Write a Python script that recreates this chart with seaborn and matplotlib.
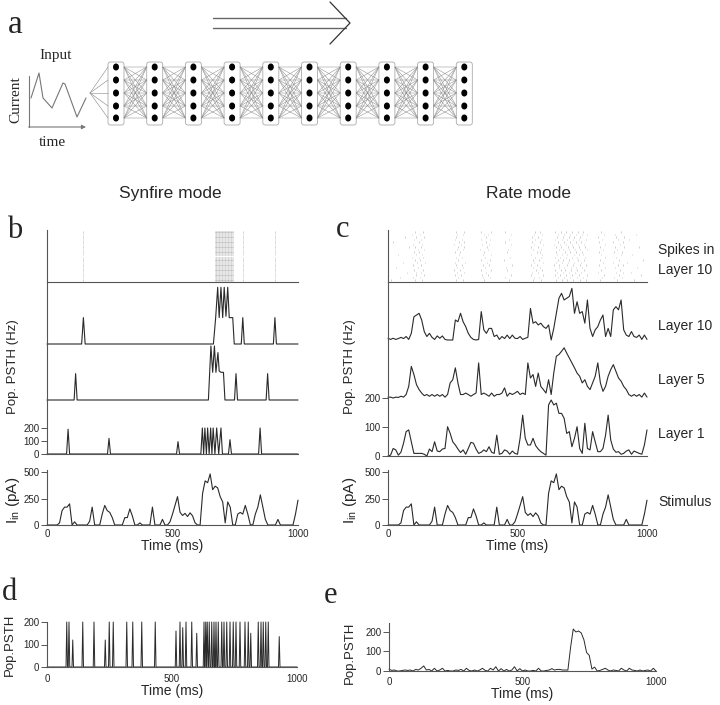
import numpy as np
import pandas as pd
import matplotlib
matplotlib.use("Agg")
import matplotlib.pyplot as plt
from matplotlib.patches import FancyBboxPatch, Ellipse
import seaborn as sns

sns.set_style("white")
plt.rcParams['font.family'] = ['Liberation Sans', 'DejaVu Sans']
plt.rcParams['mathtext.fontset'] = 'custom'
plt.rcParams['mathtext.rm'] = 'Liberation Sans'
plt.rcParams['mathtext.it'] = 'Liberation Sans:italic'

# ---------------- data ----------------
# panel a: sketched input current
input_time = [2, 10, 14, 23, 34, 36, 48, 57]
input_current = [29, 54, 29, 19, 44, 43, 10, 29]
n_layers = 10
n_neurons = 5

# time grid (ms) of the binned traces
bin_ms = list(range(0, 1001, 10))

# stimulus current (pA), shared by b and c
stim = [0, 0, 0, 0, 0, 20, 136, 169, 169, 200,
        0, 30, 0, 0, 0, 0, 0, 36, 169, 0,
        0, 0, 103, 185, 136, 119, 70, 0, 0, 0,
        0, 70, 70, 152, 86, 0, 0, 20, 0, 0,
        0, 0, 169, 0, 0, 0, 53, 0, 0, 30,
        103, 185, 268, 120, 90, 110, 80, 115, 86, 20,
        0, 0, 300, 417, 400, 483, 334, 367, 351, 268,
        218, 20, 218, 169, 0, 0, 103, 119, 103, 185,
        103, 3, 0, 103, 169, 285, 169, 53, 0, 0,
        0, 0, 53, 0, 0, 0, 0, 0, 0, 103,
        235]

# synfire mode (b): population PSTH (Hz)
b_l10_t = [0, 138, 145, 152, 663, 672, 680, 686, 693, 700, 706, 713, 720, 726, 740, 746,
           774, 780, 786, 902, 908, 914, 1000]
b_l10_v = [0, 0, 200, 0, 0, 200, 430, 200, 430, 200, 430, 210, 430, 200, 200, 0,
           0, 200, 0, 0, 200, 0, 0]
b_l5_t = [0, 108, 114, 120, 643, 653, 660, 667, 673, 681, 686, 693, 703, 709,
          747, 753, 759, 873, 879, 885, 1000]
b_l5_v = [0, 0, 200, 0, 0, 410, 210, 410, 210, 360, 220, 210, 210, 0,
          0, 200, 0, 0, 200, 0, 0]
b_l1_t = [0, 78, 84, 90, 241, 247, 253, 516, 522, 528, 613, 619, 624, 629, 635, 640,
          646, 652, 657, 662, 669, 676, 684, 693, 699, 723, 729, 735, 843, 849, 855, 1000]
b_l1_v = [0, 0, 190, 0, 0, 120, 0, 0, 95, 0, 0, 200, 0, 200, 0, 200,
          0, 200, 0, 200, 0, 200, 0, 200, 0, 0, 110, 0, 0, 200, 0, 0]
# synchronous spike times of layer 10 (synfire)
sync_spikes = [145, 669, 672, 675, 678, 681, 684, 687, 690, 693, 696, 699, 702, 705,
               708, 711, 714, 717, 720, 723, 726, 729, 732, 735, 738, 741, 780, 908]
n_raster_rows = 20

# rate mode (c): population PSTH (Hz)
c_l10 = [6, 2, 6, 2, 5, 9, 5, 12, 2, 23,
         80, 86, 92, 69, 29, 12, 23, 9, 2, 14,
         6, 14, 2, 0, 0, 0, 69, 63, 92, 63,
         46, 23, 9, 2, 0, 2, 98, 35, 23, 40,
         40, 12, 17, 2, 12, 5, 17, 5, 17, 6,
         5, 12, 2, 6, 9, 109, 58, 63, 52, 58,
         46, 40, 52, 0, 40, 92, 144, 161, 138, 144,
         150, 178, 92, 132, 92, 98, 58, 138, 40, 12,
         35, 46, 69, 86, 12, 40, 12, 104, 115, 104,
         138, 35, 17, 12, 29, 12, 9, 17, 2, 17,
         2]
c_l5 = [3, 3, 0, 3, 2, 6, 3, 12, 40, 109,
        81, 46, 29, 17, 8, 12, 6, 12, 6, 12,
        6, 12, 3, 12, 52, 63, 104, 52, 12, 12,
        17, 12, 6, 12, 17, 121, 12, 17, 12, 6,
        17, 6, 12, 12, 17, 35, 6, 17, 12, 17,
        23, 12, 17, 12, 121, 69, 81, 40, 86, 40,
        29, 17, 63, 12, 86, 144, 150, 161, 173, 155,
        138, 121, 104, 86, 75, 52, 63, 40, 29, 52,
        75, 121, 52, 23, 40, 75, 98, 115, 92, 69,
        58, 40, 29, 12, 6, 12, 6, 12, 3, 17,
        3]
c_l1 = [0, 3, 26, 21, 3, 13, 44, 84, 90, 49,
        9, 9, 9, 9, 6, 0, 24, 15, 49, 17,
        15, 24, 26, 101, 78, 49, 38, 24, 12, 21,
        6, 26, 47, 44, 24, 9, 13, 21, 15, 32,
        13, 9, 72, 6, 9, 21, 17, 6, 17, 9,
        6, 61, 141, 61, 38, 38, 61, 36, 24, 15,
        9, 3, 176, 193, 176, 182, 147, 147, 130, 78,
        84, 32, 61, 101, 26, 9, 113, 26, 21, 84,
        49, 15, 15, 26, 72, 141, 55, 24, 13, 15,
        6, 9, 17, 21, 6, 17, 13, 9, 6, 38,
        90]
# layer 10 spike raster (rate mode), one list per neuron (ms)
rate_spikes = [
    [12, 104, 131, 262, 288, 371, 468, 558, 591, 648, 671, 693, 716, 742, 763, 817, 884, 951],
    [47, 98, 122, 271, 366, 394, 452, 563, 584, 655, 679, 702, 728, 751, 826, 873, 902],
    [110, 139, 259, 281, 362, 387, 475, 551, 597, 643, 664, 688, 711, 737, 769, 834, 891, 977],
    [73, 107, 126, 266, 294, 379, 556, 580, 652, 675, 699, 722, 746, 812, 879, 906, 938],
    [101, 135, 255, 277, 358, 399, 461, 570, 593, 646, 668, 684, 707, 731, 758, 821, 897],
    [29, 116, 268, 291, 374, 455, 561, 587, 659, 681, 705, 725, 749, 838, 875, 962],
    [96, 128, 263, 284, 368, 390, 478, 553, 576, 641, 662, 690, 713, 740, 766, 815, 887, 909],
    [58, 112, 141, 257, 297, 383, 565, 599, 650, 673, 696, 719, 744, 829, 869, 921],
    [103, 124, 270, 360, 392, 449, 559, 582, 657, 677, 700, 734, 755, 818, 893, 985],
    [92, 119, 137, 261, 286, 376, 471, 567, 589, 644, 666, 686, 709, 729, 761, 836, 881],
    [37, 108, 132, 274, 365, 397, 554, 595, 653, 670, 692, 717, 738, 753, 824, 899, 944],
    [99, 121, 258, 279, 372, 458, 575, 586, 647, 683, 704, 727, 748, 813, 871, 903],
    [114, 140, 265, 289, 356, 385, 464, 560, 592, 660, 676, 698, 721, 741, 768, 831, 885],
    [81, 105, 127, 269, 295, 381, 552, 578, 649, 669, 694, 714, 736, 759, 820, 877, 912, 969],
    [97, 133, 256, 282, 363, 389, 473, 564, 598, 642, 665, 687, 710, 733, 757, 839, 894],
    [18, 118, 273, 292, 377, 451, 557, 585, 656, 680, 703, 724, 745, 816, 868, 907],
    [102, 129, 260, 285, 359, 395, 467, 569, 590, 645, 672, 691, 715, 739, 764, 827, 889, 930],
    [66, 110, 138, 264, 378, 557, 581, 651, 674, 697, 720, 743, 811, 882, 910],
    [94, 123, 267, 290, 369, 386, 476, 562, 596, 658, 678, 701, 726, 750, 770, 833, 876, 957],
    [106, 134, 263, 293, 361, 398, 453, 566, 588, 643, 667, 689, 712, 735, 752, 822, 898],
]

# panel d: synfire PSTH peaks
d_peak_t = [79, 88, 103, 143, 188, 233, 249, 265, 319, 343, 379, 433, 516, 532, 543,
            556, 579, 599, 628, 635, 641, 649, 659, 668, 676, 685, 699, 708, 719, 732,
            745, 756, 772, 792, 805, 815, 845, 856, 865, 875, 885, 929]
d_peak_h = [200, 200, 120, 200, 200, 120, 200, 200, 200, 200, 200, 200, 160, 200, 175,
            200, 200, 150, 200, 200, 200, 200, 200, 200, 200, 200, 200, 200, 200, 200,
            200, 200, 200, 200, 200, 150, 200, 200, 200, 200, 200, 135]

# panel e: rate-mode PSTH
e_psth = [10, 3, 5, 0, 0, 3, 5, 3, 5, 0,
          8, 5, 14, 26, 5, 8, 0, 14, 0, 5,
          14, 0, 3, 0, 0, 5, 3, 8, 0, 14,
          3, 0, 5, 0, 5, 14, 3, 0, 14, 5,
          22, 0, 12, 0, 8, 0, 5, 22, 0, 12,
          0, 5, 0, 0, 3, 0, 14, 0, 0, 3,
          5, 12, 5, 8, 8, 5, 5, 5, 120, 215,
          200, 205, 195, 160, 95, 80, 10, 20, 0, 3,
          8, 14, 5, 0, 5, 3, 0, 14, 5, 0,
          14, 5, 3, 0, 5, 0, 3, 5, 0, 14,
          0]

# ---------------- figure ----------------
W, H = 720, 705
fig = plt.figure(figsize=(W / 100, H / 100), dpi=100)
fig.patch.set_facecolor('white')

TRACE = '#2a2a2a'
SPINE = '#555555'
SERIF = ['Liberation Serif', 'DejaVu Serif']


def ax_px(x0, y0, x1, y1):
    return fig.add_axes([x0 / W, 1 - y1 / H, (x1 - x0) / W, (y1 - y0) / H])


def ftext(x, y, s, **kw):
    fig.text(x / W, 1 - y / H, s, **kw)


def style(ax, left=True, bottom=False, yticks=None, xticks=False):
    ax.set_facecolor('none')
    for s in ['top', 'right']:
        ax.spines[s].set_visible(False)
    ax.spines['left'].set_visible(left)
    ax.spines['bottom'].set_visible(bottom)
    for s in ['left', 'bottom']:
        ax.spines[s].set_color(SPINE)
        ax.spines[s].set_linewidth(0.8)
    ax.set_xlim(0, 1000)
    if yticks is None:
        ax.set_yticks([])
    else:
        ax.set_yticks(yticks)
        ax.tick_params(axis='y', length=4, width=0.7, pad=1.5, labelsize=7,
                       color=SPINE, left=True)
    if xticks:
        ax.set_xticks([0, 500, 1000])
        ax.tick_params(axis='x', length=0, pad=3, labelsize=7)
    else:
        ax.set_xticks([])
    ax.set_xlabel('')
    ax.set_ylabel('')


def trace(ax, x, y, lw=0.8):
    sns.lineplot(x=x, y=y, ax=ax, color=TRACE, linewidth=lw, estimator=None, sort=False)
    for ln in ax.lines:
        ln.set_clip_on(False)


# ---- panel a ----
axa = ax_px(0, 0, 720, 160)
axa.set_xlim(0, 720)
axa.set_ylim(160, 0)
axa.axis('off')
# propagation arrow
axa.plot([213, 346], [18, 18], color='#666', lw=1.0)
axa.plot([213, 346], [28, 28], color='#666', lw=1.0)
axa.plot([330, 350, 330], [2, 23, 44], color='#333', lw=0.9)
# input sketch
axa.plot([29, 29], [76, 127], color='#777', lw=0.8)
axa.annotate('', xy=(86, 127), xytext=(28.6, 127),
             arrowprops=dict(arrowstyle='-|>', lw=0.8, color='#777',
                             mutation_scale=6, shrinkA=0, shrinkB=0))
axin = ax_px(29, 72, 88, 127)
axin.axis('off')
sns.lineplot(x=input_time, y=input_current, ax=axin, color='#777', linewidth=0.8,
             estimator=None, sort=False)
axin.set_xlim(0, 59)
axin.set_ylim(0, 55)
axa.text(56, 55, 'Input', family=SERIF, fontsize=11, ha='center', va='center')
axa.text(16, 100, 'Current', family=SERIF, fontsize=11, ha='center', va='center',
         rotation=90)
axa.text(52, 142, 'time', family=SERIF, fontsize=11, ha='center', va='center')
# network
ys = [67, 80, 93, 106, 118]
step = 38.7
for y in ys:
    axa.plot([90, 108], [93, y], color='#888', lw=0.4)
for i in range(n_layers - 1):
    xr = 108 + step * i + 16
    xl = 108 + step * (i + 1)
    for y1 in ys[:n_neurons]:
        for y2 in ys[:n_neurons]:
            axa.plot([xr, xl], [y1, y2], color='#8a8a8a', lw=0.35)
for i in range(n_layers):
    xl = 108 + step * i
    axa.add_patch(FancyBboxPatch((xl, 62), 16, 63,
                                 boxstyle='round,pad=0,rounding_size=2.5',
                                 fc='white', ec='#aaaaaa', lw=0.6))
    for y in ys[:n_neurons]:
        axa.add_patch(Ellipse((xl + 8, y), 4.6, 5.6, color='black'))

# ---- panel letters & titles ----
ftext(8, 33, 'a', family=SERIF, fontsize=24, va='baseline')
ftext(7, 238, 'b', family=SERIF, fontsize=22, va='baseline')
ftext(336, 237, 'c', family=SERIF, fontsize=22, va='baseline')
ftext(2, 600, 'd', family=SERIF, fontsize=22, va='baseline')
ftext(324, 603, 'e', family=SERIF, fontsize=22, va='baseline')
ftext(170, 193, 'Synfire mode', fontsize=12.5, ha='center', va='center')
ftext(528, 193, 'Rate mode', fontsize=12.5, ha='center', va='center')


def stack(x0, x1, bounds, l10, l5, l1, raster_rows, ylims):
    # raster
    ax = ax_px(x0, bounds[0], x1, bounds[1])
    ax.eventplot(raster_rows, lineoffsets=list(range(len(raster_rows))),
                 linelengths=0.6, colors='#b5b5b5', linewidths=0.45)
    style(ax, left=True, bottom=True)
    ax.set_ylim(-0.8, len(raster_rows) - 0.2)
    # layers
    for k, (tv, lim) in enumerate(zip([l10, l5, l1], ylims)):
        ax = ax_px(x0, bounds[k + 1], x1, bounds[k + 2])
        trace(ax, tv[0], tv[1])
        last = (k == 2)
        style(ax, left=True, bottom=last,
              yticks=[0, 100, 200] if last else None)
        ax.set_ylim(0, lim)


# ---- panel b ----
stack(47, 298, [230, 282, 344, 400, 454],
      (b_l10_t, b_l10_v), (b_l5_t, b_l5_v), (b_l1_t, b_l1_v),
      [sync_spikes] * n_raster_rows, [470, 425, 415])
axs = ax_px(47, 470, 298, 525)
trace(axs, bin_ms, stim, lw=0.8)
style(axs, left=True, bottom=True, yticks=[0, 250, 500], xticks=True)
axs.set_ylim(0, 520)
axs.set_xlabel('Time (ms)', fontsize=10, labelpad=0)
ftext(13, 367, 'Pop. PSTH (Hz)', fontsize=9.5, rotation=90, ha='center', va='center')
ftext(13, 500, r'I$_{\mathrm{in}}$ (pA)', fontsize=11, rotation=90, ha='center', va='center')

# ---- panel c ----
stack(388, 647, [230, 282, 340, 398, 456],
      (bin_ms, c_l10), (bin_ms, c_l5), (bin_ms, c_l1),
      rate_spikes, [200, 200, 200])
axs = ax_px(388, 470, 647, 525)
trace(axs, bin_ms, stim, lw=0.8)
style(axs, left=True, bottom=True, yticks=[0, 250, 500], xticks=True)
axs.set_ylim(0, 520)
axs.set_xlabel('Time (ms)', fontsize=10, labelpad=0)
ftext(350, 367, 'Pop. PSTH (Hz)', fontsize=9.5, rotation=90, ha='center', va='center')
ftext(350, 500, r'I$_{\mathrm{in}}$ (pA)', fontsize=11, rotation=90, ha='center', va='center')
for y, s in [(250, 'Spikes in'), (270, 'Layer 10'), (326, 'Layer 10'),
             (380, 'Layer 5'), (434, 'Layer 1'), (502, 'Stimulus')]:
    ftext(658, y, s, fontsize=10, ha='left', va='center')

# ---- panel d ----
d_t, d_v = [0], [0]
for p, h in zip(d_peak_t, d_peak_h):
    d_t += [p - 3, p, p + 3]
    d_v += [0, h, 0]
d_t.append(1000)
d_v.append(0)
axd = ax_px(47, 622, 297, 667)
trace(axd, d_t, d_v, lw=0.7)
style(axd, left=True, bottom=True, yticks=[0, 100, 200], xticks=True)
axd.tick_params(axis='x', pad=5)
axd.set_ylim(0, 200)
axd.set_xlabel('Time (ms)', fontsize=10, labelpad=0)
ftext(10, 645, 'Pop.PSTH', fontsize=9.5, rotation=90, ha='center', va='center')

# ---- panel e ----
axe = ax_px(389, 623, 656, 671)
trace(axe, bin_ms, e_psth, lw=0.7)
style(axe, left=True, bottom=True, yticks=[0, 100, 200], xticks=True)
axe.tick_params(axis='x', pad=4)
axe.set_ylim(0, 246)
axe.set_xlabel('Time (ms)', fontsize=10, labelpad=0)
ftext(350, 653, 'Pop.PSTH', fontsize=9.5, rotation=90, ha='center', va='center')

fig.savefig('out.png', dpi=100, facecolor='white')
